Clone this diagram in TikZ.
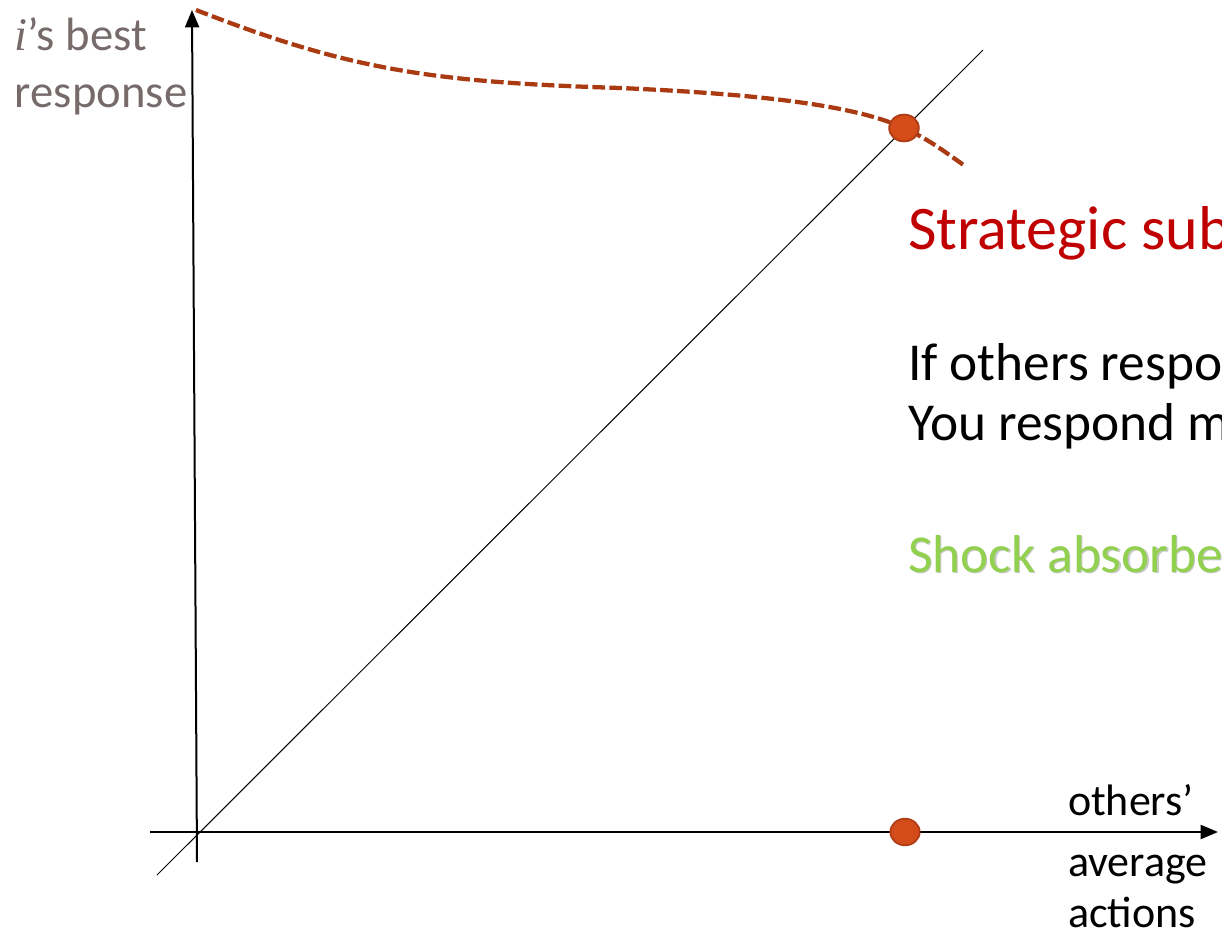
\documentclass[tikz,border=0pt]{standalone}
\usepackage{fontspec}
\setmainfont{Carlito}
\newfontfamily\serifit{Liberation Serif}
\usetikzlibrary{arrows.meta,shapes.geometric}
\definecolor{labgrey}{RGB}{118,106,106}
\definecolor{curvecol}{RGB}{170,58,18}
\definecolor{dotfill}{RGB}{212,76,26}
\definecolor{dotline}{RGB}{175,60,20}
\definecolor{titlered}{RGB}{192,0,0}
\definecolor{shockgreen}{RGB}{146,208,80}
\definecolor{shadowgrey}{RGB}{200,200,200}
\tikzset{
  axis/.style={line width=1.5pt,-{Triangle[length=13pt,width=10.5pt]}},
  diag/.style={line width=0.75pt},
  brcurve/.style={curvecol,line width=3.2pt,dash pattern=on 9.5pt off 3.2pt},
  eqdot/.style={ellipse,minimum width=22pt,minimum height=20pt,inner sep=0pt,fill=dotfill,draw=dotline,line width=1.3pt},
  txt/.style={anchor=base west,inner sep=0pt,outer sep=0pt},
}
\begin{document}
\begin{tikzpicture}[x=0.75pt,y=-0.75pt]
\useasboundingbox (0,0) rectangle (1222,938);
\clip (0,0) rectangle (1222,938);
% axes
\coordinate (ybot) at (197,862);
\coordinate (ytop) at (192,10);
\coordinate (xleft) at (150,832);
\coordinate (xright) at (1218,832);
\coordinate (dlo) at (157,875);
\coordinate (dhi) at (983,50);
\draw[axis] (ybot) -- (ytop);
\draw[axis] (xleft) -- (xright);
\draw[diag] (dlo) -- (dhi);
% best response curve
\coordinate (cstart) at (196,10);
\coordinate (cmid) at (620,88);
\coordinate (cend) at (965,166);
\node[eqdot] (eq) at (904,128) {};
\draw[brcurve] (cstart) .. controls (350,70) and (430,82) .. (cmid)
  .. controls (780,95) and (860,108) .. (eq.center)
  .. controls (930,140) and (945,152) .. (cend);
% dots
\node[eqdot] at (eq.center) {};
\node[eqdot] (eqx) at (905,832) {};
% labels
\node[txt,font=\fontsize{35}{42}\selectfont,text=labgrey] (ylab1) at (15,51) {{\serifit\itshape i}’s best};
\node[txt,font=\fontsize{35}{42}\selectfont,text=labgrey] (ylab2) at (15,108) {response};
\node[txt,font=\fontsize{46.5}{56}\selectfont,text=titlered] (title) at (908,250) {Strategic sub};
\node[txt,font=\fontsize{40}{48}\selectfont] (l1) at (908,380) {If others respo};
\node[txt,font=\fontsize{40}{48}\selectfont] (l2) at (908,440) {You respond m};
\node[txt,font=\fontsize{40}{48}\selectfont,text=shadowgrey] (shockshadow) at (909.5,573.5) {Shock absorbe};
\node[txt,font=\fontsize{40}{48}\selectfont,text=shockgreen] (shock) at (908,572) {Shock absorbe};
\node[txt,font=\fontsize{33}{40}\selectfont] (x1) at (1068,815) {others’};
\node[txt,font=\fontsize{33}{40}\selectfont] (x2) at (1068,876) {average};
\node[txt,font=\fontsize{33}{40}\selectfont] (x3) at (1068,927) {actions};
\end{tikzpicture}
\end{document}
